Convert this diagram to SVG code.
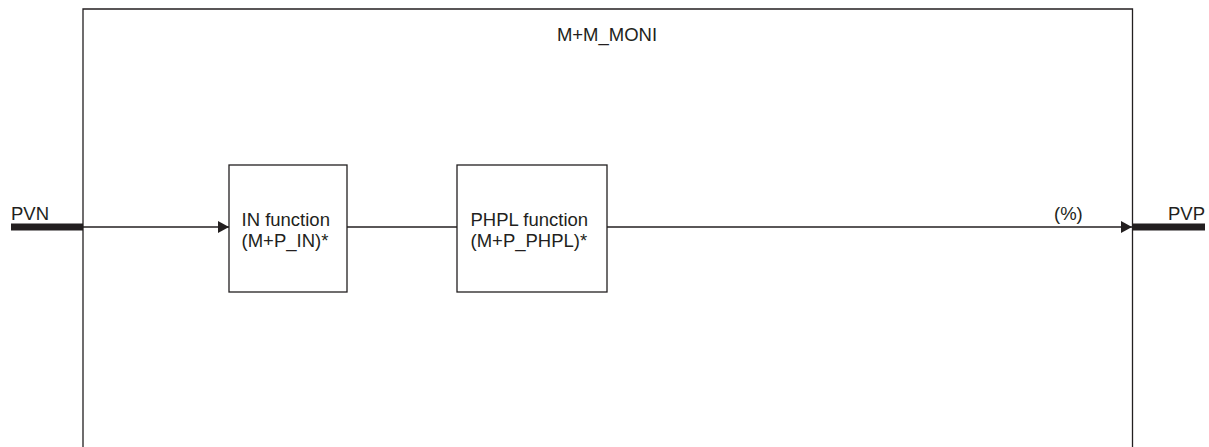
<svg xmlns="http://www.w3.org/2000/svg" width="1209" height="447" viewBox="0 0 1209 447">
<defs>
<style>
text{font-family:"Liberation Sans",Arial,sans-serif;font-size:18.5px;fill:#231f20}
.box{fill:#fff;stroke:#231f20;stroke-width:1.3}
.ln{fill:none;stroke:#231f20;stroke-width:1.3}
.bar{fill:none;stroke:#231f20;stroke-width:7}
</style>
<marker id="arr" markerWidth="11" markerHeight="12" refX="11" refY="6" orient="auto" markerUnits="userSpaceOnUse">
<path d="M0,0 L11,6 L0,12 Z" fill="#231f20"/>
</marker>
</defs>
<rect width="1209" height="447" fill="#fff"/>
<g id="moni">
<path class="ln" d="M83,447 V9 H1132.5 V447"/>
<text x="607" y="41" text-anchor="middle">M+M_MONI</text>
</g>
<g id="connectors">
<line class="bar" x1="11" y1="227" x2="83" y2="227"/>
<line class="bar" x1="1133" y1="227" x2="1205" y2="227"/>
<line class="ln" x1="83" y1="227" x2="229" y2="227" marker-end="url(#arr)"/>
<line class="ln" x1="347" y1="227" x2="457" y2="227"/>
<line class="ln" x1="607" y1="227" x2="1132" y2="227" marker-end="url(#arr)"/>
</g>
<g id="pvn"><text x="11" y="220">PVN</text></g>
<g id="pvp"><text x="1205" y="220" text-anchor="end">PVP</text></g>
<g id="pct"><text x="1054" y="220">(%)</text></g>
<g id="in">
<rect class="box" x="229" y="165" width="118" height="127"/>
<text x="241.5" y="226">IN function</text>
<text x="241.5" y="247">(M+P_IN)*</text>
</g>
<g id="phpl">
<rect class="box" x="457" y="165" width="150" height="127"/>
<text x="470.5" y="226">PHPL function</text>
<text x="470.5" y="247">(M+P_PHPL)*</text>
</g>
</svg>
